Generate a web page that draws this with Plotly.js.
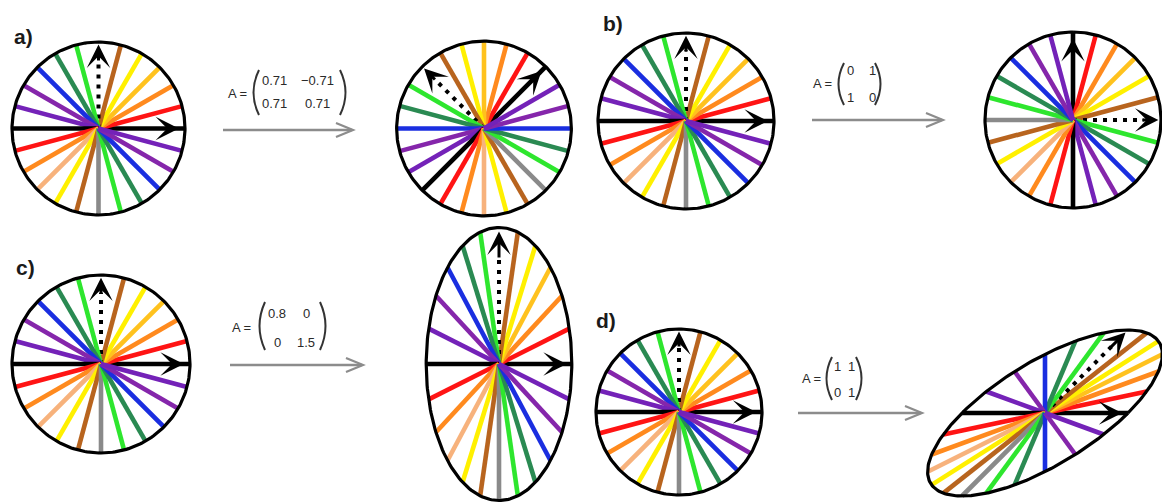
<!DOCTYPE html>
<html><head><meta charset="utf-8">
<script src="https://cdn.plot.ly/plotly-3.0.1.min.js"></script>
<style>html,body{margin:0;padding:0;background:#fff;} #chart{width:1162px;height:503px;}</style>
</head><body><div id="chart"></div>
<script>
const W = 1162, H = 503;

// ---- data ----
const spokeAngles = [0,15,30,45,60,75,90,105,120,135,150,165,180,195,210,225,240,255,270,285,300,315,330,345];
const spokeColors = ['#000000','#ff1414','#ff8a1e','#ffc21e','#fff000','#b8641e','#000000','#2ee62e','#2a8a52','#1a2ee0','#8526ab','#7422b8',
                     '#000000','#ff1414','#ff8a1e','#f7b27c','#fff000','#b8641e','#8a8a8a','#2ee62e','#2a8a52','#1a2ee0','#8526ab','#7422b8'];
const panelLabels = ['a)','b)','c)','d)'];
const matA = [[0.71,-0.71],[0.71,0.71]];
const matB = [[0,1],[1,0]];
const matC = [[0.8,0],[0,1.5]];
const matD = [[1,1],[0,1]];
const matIdentity = [[1,0],[0,1]];
const matrixEntries = [
  [['0.71','\u22120.71'],['0.71','0.71']],
  [['0','1'],['1','0']],
  [['0.8','0'],['0','1.5']],
  [['1','1'],['0','1']]
];

// ---- layout geometry (pixels) ----
const panels = [
  {cx:98.5, cy:128.5, r:86.5, ex:1.12, ey:1.12, M:matIdentity},
  {cx:484,  cy:128.5, r:87,   ex:1.12, ey:1.12, M:matA},
  {cx:686,  cy:121,   r:88,   ex:1.12, ey:1.12, M:matIdentity},
  {cx:1073, cy:120,   r:88,   ex:1.12, ey:1.12, M:matB},
  {cx:101,  cy:364,   r:89,   ex:1.12, ey:1.12, M:matIdentity},
  {cx:499,  cy:364,   r:91,   ex:0.92, ey:1.6,  M:matC},
  {cx:679,  cy:412,   r:83,   ex:1.12, ey:1.12, M:matIdentity},
  {cx:1045, cy:413,   r:83,   ex:1.5,  ey:1.12, M:matD}
];
const labelPos = [[12,36],[601,23],[14,267],[594,320]];
const matrixGeom = [
  {Ax:237, Ay:93,  cols:[274,317], rows:[80,103],  pl:252, pr:347, pt:70,  pb:115, arrow:[223,353,130]},
  {Ax:822, Ay:83,  cols:[850,872], rows:[70,97],   pl:837, pr:882, pt:63,  pb:105, arrow:[812,943,120]},
  {Ax:241, Ay:327, cols:[277,306], rows:[313,342], pl:258, pr:327, pt:302, pb:350, arrow:[230,363,365]},
  {Ax:811, Ay:378, cols:[837,852], rows:[366,392], pl:825, pr:863, pt:357, pb:400, arrow:[798,922,413]}
];

function tf(M, x, y){ return [M[0][0]*x + M[0][1]*y, M[1][0]*x + M[1][1]*y]; }
const px = x => x / W, py = y => 1 - y / H;

const traces = [], annotations = [], shapes = [];
const layout = {
  width: W, height: H, autosize: false,
  margin: {l:0, r:0, t:0, b:0, pad:0},
  paper_bgcolor: '#ffffff', plot_bgcolor: 'rgba(0,0,0,0)',
  showlegend: false, hovermode: false
};

panels.forEach((p, k) => {
  const sfx = k === 0 ? '' : String(k + 1);
  const xr = 'x' + sfx, yr = 'y' + sfx;
  const x0 = Math.max(0, p.cx - p.ex * p.r), x1 = Math.min(W, p.cx + p.ex * p.r);
  const y0 = Math.max(0, p.cy - p.ey * p.r), y1 = Math.min(H, p.cy + p.ey * p.r);
  layout['xaxis' + sfx] = {domain:[x0 / W, x1 / W], range:[(x0 - p.cx) / p.r, (x1 - p.cx) / p.r],
    anchor: yr, visible:false, fixedrange:true, showgrid:false, zeroline:false};
  layout['yaxis' + sfx] = {domain:[1 - y1 / H, 1 - y0 / H], range:[(p.cy - y1) / p.r, (p.cy - y0) / p.r],
    anchor: xr, visible:false, fixedrange:true, showgrid:false, zeroline:false};

  // spokes
  spokeAngles.forEach((deg, i) => {
    const a = deg * Math.PI / 180;
    const c = Math.cos(a), s = Math.sin(a);
    if (deg === 90) {
      const e = tf(p.M, 0.8 * c, 0.8 * s);
      traces.push({type:'scatter', mode:'lines', x:[0, e[0]], y:[0, e[1]], xaxis:xr, yaxis:yr,
        line:{color:'#000', width:4, dash:'4px,6px'}, hoverinfo:'skip'});
    } else {
      const e = tf(p.M, c, s);
      traces.push({type:'scatter', mode:'lines', x:[0, e[0]], y:[0, e[1]], xaxis:xr, yaxis:yr,
        line:{color:spokeColors[i], width:4.6}, hoverinfo:'skip'});
    }
  });
  // arrowheads for the two basis vectors
  [[0, 0.93], [90, 0.97]].forEach(([deg, f]) => {
    const a = deg * Math.PI / 180;
    const tip = tf(p.M, f * Math.cos(a), f * Math.sin(a));
    const tail = tf(p.M, (f - 0.2) * Math.cos(a), (f - 0.2) * Math.sin(a));
    annotations.push({xref:xr, yref:yr, axref:xr, ayref:yr, x:tip[0], y:tip[1], ax:tail[0], ay:tail[1],
      text:'', showarrow:true, arrowhead:3, arrowsize:1.3, arrowwidth:3, arrowcolor:'#000', standoff:0});
  });
  // outline of the (transformed) unit circle
  const ox = [], oy = [];
  for (let j = 0; j <= 240; j++) {
    const t = 2 * Math.PI * j / 240;
    const q = tf(p.M, Math.cos(t), Math.sin(t));
    ox.push(q[0]); oy.push(q[1]);
  }
  traces.push({type:'scatter', mode:'lines', x:ox, y:oy, xaxis:xr, yaxis:yr,
    line:{color:'#000', width:3.2}, hoverinfo:'skip'});
});

// panel labels
panelLabels.forEach((t, k) => {
  annotations.push({xref:'paper', yref:'paper', x:px(labelPos[k][0]), y:py(labelPos[k][1]),
    xanchor:'left', yanchor:'middle', showarrow:false, text:t,
    font:{family:'Liberation Sans, Arial, sans-serif', size:21, color:'#1a1a1a', weight:700}});
});

// matrices and transformation arrows
const mfont = {family:'Liberation Sans, Arial, sans-serif', size:13, color:'#2a2a2a'};
matrixGeom.forEach((g, k) => {
  annotations.push({xref:'paper', yref:'paper', x:px(g.Ax), y:py(g.Ay), xanchor:'center', yanchor:'middle',
    showarrow:false, text:'A =', font:mfont});
  for (let r = 0; r < 2; r++) for (let c = 0; c < 2; c++) {
    annotations.push({xref:'paper', yref:'paper', x:px(g.cols[c]), y:py(g.rows[r]), xanchor:'center', yanchor:'middle',
      showarrow:false, text:matrixEntries[k][r][c], font:mfont});
  }
  const ym = (g.pt + g.pb) / 2;
  shapes.push({type:'path', xref:'paper', yref:'paper',
    path:`M${px(g.pl+7)},${py(g.pt)} Q${px(g.pl-4)},${py(ym)} ${px(g.pl+7)},${py(g.pb)}`,
    line:{color:'#333', width:2}});
  shapes.push({type:'path', xref:'paper', yref:'paper',
    path:`M${px(g.pr-7)},${py(g.pt)} Q${px(g.pr+4)},${py(ym)} ${px(g.pr-7)},${py(g.pb)}`,
    line:{color:'#333', width:2}});
  const [ax0, ax1, ay] = g.arrow;
  shapes.push({type:'line', xref:'paper', yref:'paper', x0:px(ax0), x1:px(ax1 - 1), y0:py(ay), y1:py(ay),
    line:{color:'#8c8c8c', width:2.5}});
  shapes.push({type:'path', xref:'paper', yref:'paper',
    path:`M${px(ax1-17)},${py(ay-7)} L${px(ax1)},${py(ay)} L${px(ax1-17)},${py(ay+7)}`,
    line:{color:'#8c8c8c', width:2.2}});
});

layout.annotations = annotations;
layout.shapes = shapes;
Plotly.newPlot('chart', traces, layout, {staticPlot:true, displayModeBar:false});
</script>
</body></html>
